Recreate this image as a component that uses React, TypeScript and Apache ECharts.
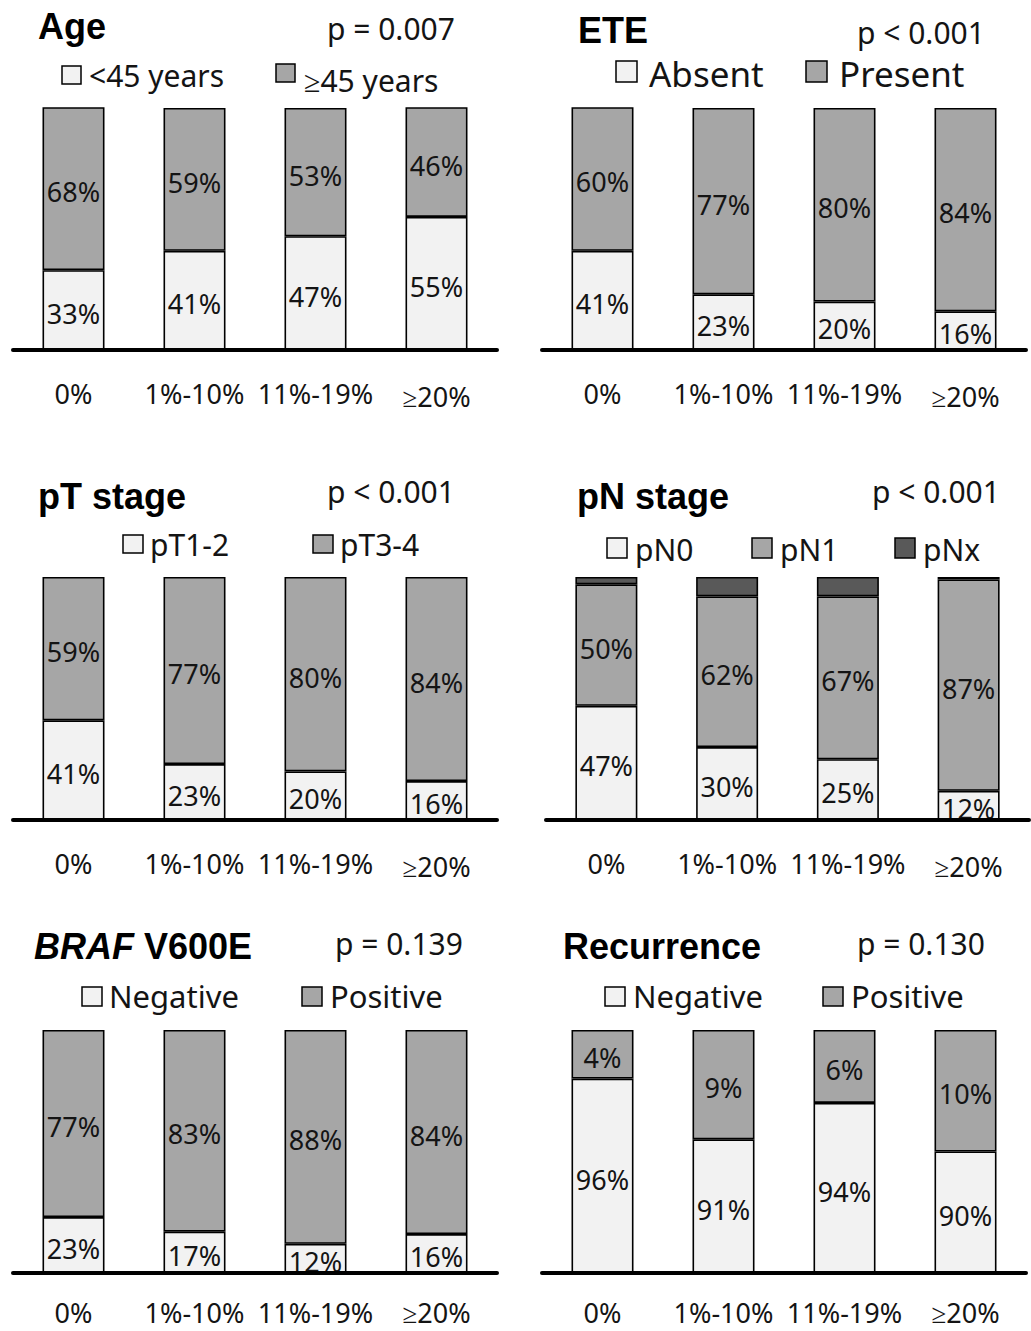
import React, { useEffect, useRef } from "react";
import * as echarts from "echarts";

// Tumour-size categories along every x axis
const categories = ["0%", "1%-10%", "11%-19%", "≥20%"];

// Age
const ageUnder45 = [33, 41, 47, 55];
const ageOver45 = [68, 59, 53, 46];
// Extrathyroidal extension
const eteAbsent = [41, 23, 20, 16];
const etePresent = [60, 77, 80, 84];
// pT stage
const ptEarly = [41, 23, 20, 16];
const ptLate = [59, 77, 80, 84];
// pN stage
const pn0 = [47, 30, 25, 12];
const pn1 = [50, 62, 67, 87];
const pnx = [3, 8, 8, 1];
// BRAF V600E
const brafNeg = [23, 17, 12, 16];
const brafPos = [77, 83, 88, 84];
// Recurrence
const recNeg = [96, 91, 94, 90];
const recPos = [4, 9, 6, 10];

const pValues = ["p = 0.007", "p < 0.001", "p < 0.001", "p < 0.001", "p = 0.139", "p = 0.130"];

const LIGHT = "#f2f2f2";
const MID = "#a6a6a6";
const DARK = "#595959";
const INK = "#141414";
const SANS = "Noto Sans";
const BOLD = "Liberation Sans";

// Panel frames: grid rectangle, y range, titles and legend placement
const panels = [
  {
    grid: { left: 13, top: 108, width: 484, height: 242 }, yMin: 0, labelMargin: 29, gePad: 6,
    series: [{ name: "<45 years", data: ageUnder45, color: LIGHT }, { name: "≥45 years", data: ageOver45, color: MID }],
    title: { text: "Age", x: 38, y: 26 }, p: { x: 327, y: 28 },
    legend: { size: 30, items: [
      { box: [62, 66, 19, 18], tx: 89, ty: 75 },
      { box: [276, 64, 19, 18], tx: 304, ty: 80 },
    ] },
  },
  {
    grid: { left: 542, top: 108, width: 484, height: 242 }, yMin: 0, labelMargin: 29, gePad: 6,
    series: [{ name: "Absent", data: eteAbsent, color: LIGHT }, { name: "Present", data: etePresent, color: MID }],
    title: { text: "ETE", x: 578, y: 30 }, p: { x: 857, y: 32 },
    legend: { size: 35, items: [
      { box: [616, 61, 21, 21], tx: 649, ty: 73 },
      { box: [806, 61, 21, 21], tx: 839, ty: 73 },
    ] },
  },
  {
    grid: { left: 13, top: 577, width: 484, height: 243 }, yMin: 0, labelMargin: 29, gePad: 6,
    series: [{ name: "pT1-2", data: ptEarly, color: LIGHT }, { name: "pT3-4", data: ptLate, color: MID }],
    title: { text: "pT stage", x: 38, y: 496 }, p: { x: 327, y: 491 },
    legend: { size: 30, items: [
      { box: [123, 535, 20, 18], tx: 150, ty: 544 },
      { box: [313, 535, 20, 18], tx: 340, ty: 544 },
    ] },
  },
  {
    grid: { left: 546, top: 577, width: 483, height: 243 }, yMin: 0, labelMargin: 29, gePad: 6,
    series: [
      { name: "pN0", data: pn0, color: LIGHT },
      { name: "pN1", data: pn1, color: MID },
      { name: "pNx", data: pnx, color: DARK, noLabel: true },
    ],
    title: { text: "pN stage", x: 577, y: 496 }, p: { x: 872, y: 491 },
    legend: { size: 30, items: [
      { box: [607, 538, 20, 20], tx: 635, ty: 549 },
      { box: [752, 538, 20, 20], tx: 780, ty: 549 },
      { box: [895, 538, 20, 20], tx: 923, ty: 549 },
    ] },
  },
  {
    grid: { left: 13, top: 1030, width: 484, height: 243 }, yMin: 0, labelMargin: 25, gePad: 0,
    series: [{ name: "Negative", data: brafNeg, color: LIGHT }, { name: "Positive", data: brafPos, color: MID }],
    title: { rich: true, x: 34, y: 946 }, p: { x: 335, y: 943 },
    legend: { size: 31, items: [
      { box: [82, 987, 20, 19], tx: 109, ty: 996 },
      { box: [302, 987, 20, 19], tx: 330, ty: 996 },
    ] },
  },
  {
    grid: { left: 542, top: 1030, width: 484, height: 243 }, yMin: 80, labelMargin: 25, gePad: 0,
    series: [{ name: "Negative", data: recNeg, color: LIGHT }, { name: "Positive", data: recPos, color: MID }],
    title: { text: "Recurrence", x: 563, y: 946 }, p: { x: 857, y: 943 },
    legend: { size: 31, items: [
      { box: [605, 987, 20, 19], tx: 633, ty: 996 },
      { box: [823, 987, 20, 19], tx: 851, ty: 996 },
    ] },
  },
];

function buildOption() {
  const grid: any[] = [];
  const xAxis: any[] = [];
  const yAxis: any[] = [];
  const series: any[] = [];
  const graphic: any[] = [];

  panels.forEach((panel, i) => {
    grid.push({ ...panel.grid, containLabel: false });
    xAxis.push({
      type: "category",
      gridIndex: i,
      data: categories,
      axisLine: { show: true, lineStyle: { color: "#000", width: 4 } },
      axisTick: { show: false },
      axisLabel: {
        interval: 0,
        hideOverlap: false,
        margin: panel.labelMargin,
        color: INK,
        fontFamily: SANS,
        fontSize: 27,
        lineHeight: 28,
        formatter: (v: string) => (v.startsWith("≥") ? `{ge|${v}}` : v),
        rich: { ge: { fontFamily: SANS, fontSize: 27, lineHeight: 28, color: INK, padding: [panel.gePad, 0, 0, 0] } },
      },
      z: 5,
    });
    yAxis.push({ type: "value", gridIndex: i, min: panel.yMin, max: 100, show: false });

    panel.series.forEach((s: any) => {
      series.push({
        type: "bar",
        name: s.name,
        xAxisIndex: i,
        yAxisIndex: i,
        stack: `panel${i}`,
        barWidth: 62,
        clip: true,
        data: s.data,
        itemStyle: { color: s.color, borderColor: "#000", borderWidth: 1.6 },
        label: {
          show: !s.noLabel,
          position: "inside",
          offset: [0, 3],
          formatter: "{c}%",
          fontFamily: SANS,
          fontSize: 27,
          color: INK,
        },
      });
    });

    // Panel heading
    if (panel.title.rich) {
      graphic.push({
        type: "text",
        x: panel.title.x,
        y: panel.title.y,
        style: {
          text: "{i|BRAF }{b|V600E}",
          verticalAlign: "middle",
          align: "left",
          rich: {
            i: { fontFamily: BOLD, fontSize: 36, fontWeight: "bold", fontStyle: "italic", fill: "#000" },
            b: { fontFamily: BOLD, fontSize: 36, fontWeight: "bold", fill: "#000" },
          },
        },
      });
    } else {
      graphic.push({
        type: "text",
        x: panel.title.x,
        y: panel.title.y,
        style: {
          text: panel.title.text,
          fontFamily: BOLD,
          fontSize: 36,
          fontWeight: "bold",
          fill: "#000",
          align: "left",
          verticalAlign: "middle",
        },
      });
    }
    graphic.push({
      type: "text",
      x: panel.p.x,
      y: panel.p.y,
      style: {
        text: pValues[i],
        fontFamily: SANS,
        fontSize: 30,
        fill: INK,
        align: "left",
        verticalAlign: "middle",
      },
    });

    // Legend keys
    panel.legend.items.forEach((item, k) => {
      const s: any = panel.series[k];
      const [bx, by, bw, bh] = item.box;
      graphic.push({
        type: "rect",
        shape: { x: bx, y: by, width: bw, height: bh },
        style: { fill: s.color, stroke: "#000", lineWidth: 1.5 },
      });
      graphic.push({
        type: "text",
        x: item.tx,
        y: item.ty,
        style: {
          text: s.name,
          fontFamily: SANS,
          fontSize: panel.legend.size,
          fill: INK,
          align: "left",
          verticalAlign: "middle",
        },
      });
    });
  });

  return {
    animation: false,
    backgroundColor: "#fff",
    grid,
    xAxis,
    yAxis,
    series,
    graphic,
  };
}

export default function App() {
  const ref = useRef<HTMLDivElement>(null);

  useEffect(() => {
    if (!ref.current) return;
    const chart = echarts.init(ref.current, undefined, { renderer: "svg" });
    chart.setOption(buildOption() as any);
    return () => chart.dispose();
  }, []);

  return (
    <div
      ref={ref}
      style={{ position: "absolute", left: 0, top: 0, width: 1031, height: 1331, background: "#fff" }}
    />
  );
}
